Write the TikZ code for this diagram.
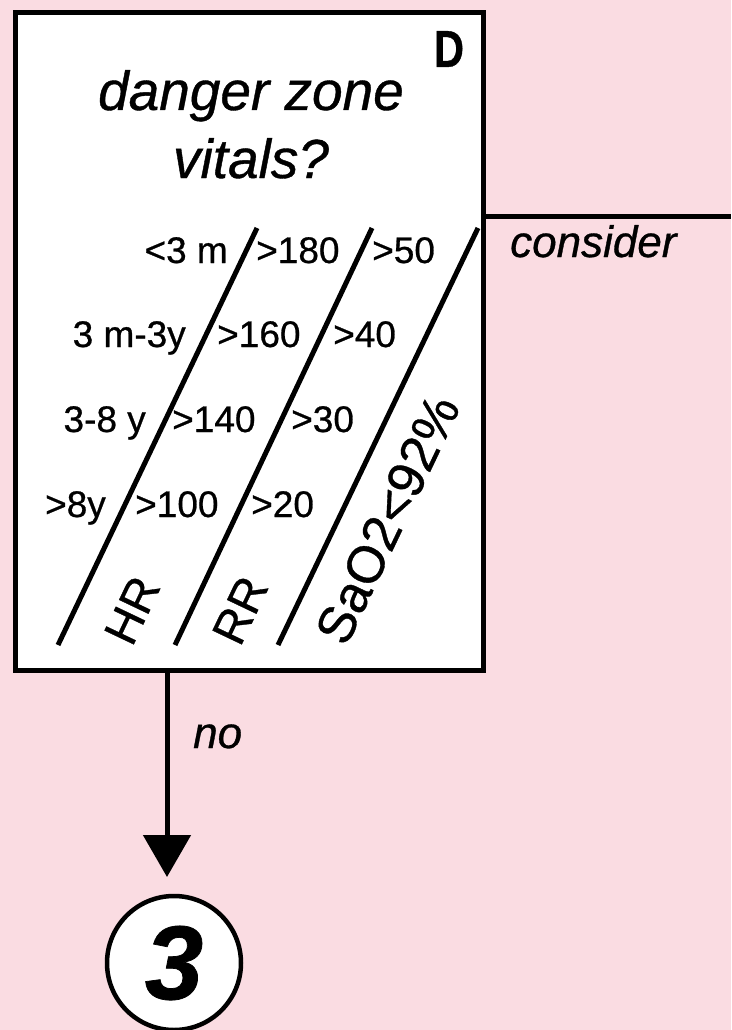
\documentclass[tikz,border=0pt]{standalone}
\usepackage{fontspec}
\setmainfont{Liberation Sans}[FakeBold=0.7]
\usetikzlibrary{arrows.meta}
\definecolor{zonepink}{RGB}{250,220,226}

\begin{document}
\begin{tikzpicture}[x=1pt, y=-1pt,
	panel/.style={draw=black, line width=5pt, fill=white, minimum width=468pt, minimum height=657pt, inner sep=0pt},
	title/.style={font=\itshape\fontsize{55}{60}\selectfont, inner sep=0pt, anchor=base},
	divider/.style={line width=5pt},
	value/.style={font=\fontsize{37}{40}\selectfont, inner sep=0pt},
	vital/.style={font=\fontsize{47}{50}\selectfont, inner sep=0pt, rotate=64.5, anchor=base west},
	answer/.style={font=\itshape\fontsize{44}{48}\selectfont, inner sep=0pt, anchor=base west},
	flow/.style={line width=5pt},
	exit/.style={circle, draw=black, line width=4.5pt, fill=white, minimum size=134pt, inner sep=0pt, font=\bfseries\itshape\fontsize{105}{110}\selectfont},
]
	% Page background
	\fill[zonepink] (0, 0) rectangle (731, 1030);
	\useasboundingbox (0, 0) rectangle (731, 1030);

	% Decision box and its heading
	\node[panel] (decision) at (249, 341.5) {};
	\node[font=\bfseries\fontsize{52}{56}\selectfont, inner sep=0pt] (letter) at (449, 49) {\scalebox{0.8}[1]{D}};
	\node[title] (danger) at (251, 110) {danger zone};
	\node[title] (vitals) at (251, 178) {vitals?};

	% Slanted dividers between the columns
	\foreach \top/\bot in {257/58, 372/175, 478/278} {
		\draw[divider] (\top, 228) -- (\bot, 645);
	}

	% Thresholds per age group
	\foreach \age/\hr/\rr/\base/\ax/\hx/\rx in {
		{<3 m}/{>180}/{>50}/263/228/256/372,
		{3 m-3y}/{>160}/{>40}/347/186/217/333,
		{3-8 y}/{>140}/{>30}/432/146/172/291,
		{>8y}/{>100}/{>20}/517/106/135/251} {
		\node[value, anchor=base east] at (\ax, \base) {\age};
		\node[value, anchor=base west] at (\hx, \base) {\hr};
		\node[value, anchor=base west] at (\rx, \base) {\rr};
	}

	% Column names along the dividers
	\node[vital] (hr) at (132, 648) {HR};
	\node[vital] (rr) at (240, 648) {RR};
	\node[vital, font=\fontsize{52}{56}\selectfont] (sat) at (346, 648) {SaO2<92\%};

	% Way out to the right
	\coordinate (side) at (731, 216);
	\draw[flow] (decision.east |- side) -- (side);
	\node[answer] (consider) at (510, 257) {consider};

	% Way down to the next step
	\node[exit] (three) at (174, 963) {3};
	\coordinate (drop) at (167, 877);
	\draw[flow, -{Triangle[width=47pt, length=42pt]}] (decision.south -| drop) -- (drop);
	\node[answer] (no) at (193, 748) {no};
\end{tikzpicture}
\end{document}
